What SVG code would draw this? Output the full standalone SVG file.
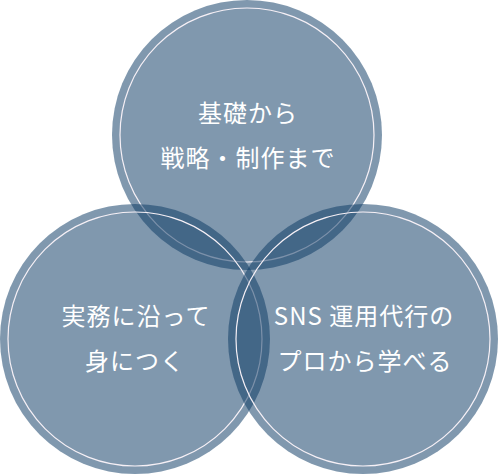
<svg xmlns="http://www.w3.org/2000/svg" width="499" height="474" viewBox="0 0 499 474">
  <style>
    .disc { fill: #0b3964; fill-opacity: 0.52; }
    .ring { fill: none; stroke: #f6f0f6; stroke-width: 1.2; }
    .label { fill: #ffffff; font-family: "Noto Sans CJK JP", "Noto Sans", sans-serif; font-size: 24px; text-anchor: middle; letter-spacing: 1px; }
  </style>
  <rect width="499" height="474" fill="#ffffff"/>

  <!-- top circle -->
  <g id="basics">
    <circle class="disc" cx="247" cy="135" r="135"/>
    <circle class="ring" cx="247" cy="135" r="127"/>
    <text class="label" x="248" y="122">基礎から</text>
    <text class="label" x="248" y="167">戦略・制作まで</text>
  </g>

  <!-- bottom-left circle -->
  <g id="practice">
    <circle class="disc" cx="135" cy="339" r="135"/>
    <circle class="ring" cx="135" cy="339" r="127"/>
    <text class="label" x="136" y="325">実務に沿って</text>
    <text class="label" x="135" y="370">身につく</text>
  </g>

  <!-- bottom-right circle -->
  <g id="sns">
    <circle class="disc" cx="363" cy="339" r="135"/>
    <circle class="ring" cx="363" cy="339" r="127"/>
    <text class="label" x="364" y="325">SNS 運用代行の</text>
    <text class="label" x="365" y="370">プロから学べる</text>
  </g>
</svg>
